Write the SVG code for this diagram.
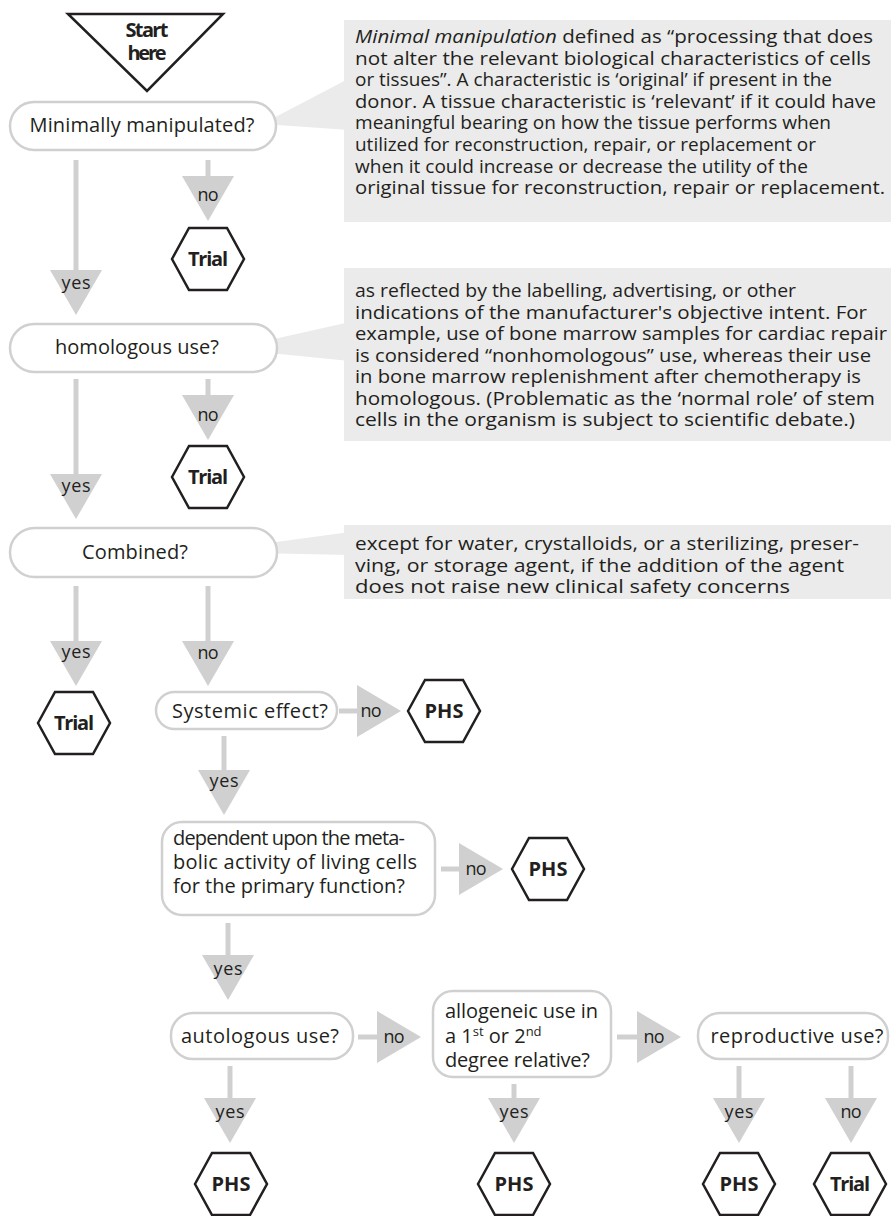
<svg xmlns="http://www.w3.org/2000/svg" xmlns:xlink="http://www.w3.org/1999/xlink" width="891" height="1216" viewBox="0 0 891 1216">
<style>
  text { font-family: "Open Sans", "Noto Sans", "Liberation Sans", sans-serif; fill: #231f20; }
  .lbl { font-size: 20px; }
  .note { font-size: 18.5px; }
  .yn { font-size: 18px; text-anchor: middle; }
  .term { font-size: 20px; font-weight: bold; text-anchor: middle; }
  .box { fill: #ffffff; stroke: #d0d0d0; stroke-width: 2.5; }
  .hex { fill: #ffffff; stroke: #231f20; stroke-width: 2.5; stroke-linejoin: miter; }
  .line { stroke: #d0d0d0; stroke-width: 5; fill: none; }
  .arr { fill: #d0d0d0; }
  .callout { fill: #ebebeb; }
  .mid { text-anchor: middle; }
</style>
<defs>
  <path id="tdown" d="M-26,0 L26,0 L0,45 Z"/>
  <path id="tright" d="M0,-26 L0,26 L44,0 Z"/>
  <polygon id="hexa" points="-36,0 -19,-31 19,-31 36,0 19,31 -19,31"/>
</defs>

<!-- callouts -->
<g id="callout1">
  <polygon class="callout" points="262,124 350,78 350,130"/>
  <rect class="callout" x="344" y="20" width="547" height="202"/>
  <text class="note" x="355" y="43" textLength="518" lengthAdjust="spacingAndGlyphs"><tspan font-style="italic">Minimal manipulation</tspan> defined as “processing that does</text>
  <text class="note" x="355" y="64.6" textLength="516" lengthAdjust="spacingAndGlyphs">not alter the relevant biological characteristics of cells</text>
  <text class="note" x="355" y="86.2" textLength="477" lengthAdjust="spacingAndGlyphs">or tissues”. A characteristic is ‘original’ if present in the</text>
  <text class="note" x="355" y="107.8" textLength="521" lengthAdjust="spacingAndGlyphs">donor. A tissue characteristic is ‘relevant’ if it could have</text>
  <text class="note" x="355" y="129.4" textLength="476" lengthAdjust="spacingAndGlyphs">meaningful bearing on how the tissue performs when</text>
  <text class="note" x="355" y="151" textLength="461" lengthAdjust="spacingAndGlyphs">utilized for reconstruction, repair, or replacement or</text>
  <text class="note" x="355" y="172.6" textLength="453" lengthAdjust="spacingAndGlyphs">when it could increase or decrease the utility of the</text>
  <text class="note" x="355" y="194.2" textLength="530" lengthAdjust="spacingAndGlyphs">original tissue for reconstruction, repair or replacement.</text>
</g>
<g id="callout2">
  <polygon class="callout" points="230,349 350,322 350,361"/>
  <rect class="callout" x="344" y="268" width="547" height="173"/>
  <text class="note" x="355" y="297" textLength="441" lengthAdjust="spacingAndGlyphs">as reflected by the labelling, advertising, or other</text>
  <text class="note" x="355" y="318.5" textLength="512" lengthAdjust="spacingAndGlyphs">indications of the manufacturer's objective intent. For</text>
  <text class="note" x="355" y="340" textLength="532" lengthAdjust="spacingAndGlyphs">example, use of bone marrow samples for cardiac repair</text>
  <text class="note" x="355" y="361.5" textLength="516" lengthAdjust="spacingAndGlyphs">is considered “nonhomologous” use, whereas their use</text>
  <text class="note" x="355" y="383" textLength="506" lengthAdjust="spacingAndGlyphs">in bone marrow replenishment after chemotherapy is</text>
  <text class="note" x="355" y="404.5" textLength="520" lengthAdjust="spacingAndGlyphs">homologous. (Problematic as the ‘normal role’ of stem</text>
  <text class="note" x="355" y="426" textLength="500" lengthAdjust="spacingAndGlyphs">cells in the organism is subject to scientific debate.)</text>
</g>
<g id="callout3">
  <polygon class="callout" points="203,552 350,532 350,555"/>
  <rect class="callout" x="344" y="525" width="547" height="74"/>
  <text class="note" x="355" y="550" textLength="504" lengthAdjust="spacingAndGlyphs">except for water, crystalloids, or a sterilizing, preser-</text>
  <text class="note" x="355" y="571.5" textLength="489" lengthAdjust="spacingAndGlyphs">ving, or storage agent, if the addition of the agent</text>
  <text class="note" x="355" y="593" textLength="435" lengthAdjust="spacingAndGlyphs">does not raise new clinical safety concerns</text>
</g>

<!-- connectors -->
<g id="connectors">
  <line class="line" x1="76" y1="160" x2="76" y2="272"/>
  <use href="#tdown" class="arr" x="76" y="270"/>
  <text class="yn" x="76" y="289" textLength="29">yes</text>
  <line class="line" x1="208" y1="160" x2="208" y2="178"/>
  <use href="#tdown" class="arr" x="208" y="176"/>
  <text class="yn" x="208" y="201" textLength="21">no</text>

  <line class="line" x1="76" y1="379" x2="76" y2="476"/>
  <use href="#tdown" class="arr" x="76" y="474"/>
  <text class="yn" x="76" y="492" textLength="29">yes</text>
  <line class="line" x1="208" y1="379" x2="208" y2="397"/>
  <use href="#tdown" class="arr" x="208" y="395"/>
  <text class="yn" x="208" y="421" textLength="21">no</text>

  <line class="line" x1="76" y1="586" x2="76" y2="643"/>
  <use href="#tdown" class="arr" x="76" y="641"/>
  <text class="yn" x="76" y="658" textLength="29">yes</text>
  <line class="line" x1="208" y1="586" x2="208" y2="643"/>
  <use href="#tdown" class="arr" x="208" y="641"/>
  <text class="yn" x="208" y="659" textLength="21">no</text>

  <line class="line" x1="339" y1="711" x2="359" y2="711"/>
  <use href="#tright" class="arr" x="357" y="711"/>
  <text class="yn" x="371" y="717" textLength="21">no</text>
  <line class="line" x1="224" y1="736" x2="224" y2="772"/>
  <use href="#tdown" class="arr" x="224" y="770"/>
  <text class="yn" x="224" y="787" textLength="29">yes</text>

  <line class="line" x1="441" y1="869" x2="461" y2="869"/>
  <use href="#tright" class="arr" x="459" y="869"/>
  <text class="yn" x="476" y="875" textLength="21">no</text>
  <line class="line" x1="228" y1="923" x2="228" y2="957"/>
  <use href="#tdown" class="arr" x="228" y="955"/>
  <text class="yn" x="228" y="975" textLength="29">yes</text>

  <line class="line" x1="358" y1="1037" x2="379" y2="1037"/>
  <use href="#tright" class="arr" x="377" y="1037"/>
  <text class="yn" x="394" y="1043" textLength="21">no</text>
  <line class="line" x1="617" y1="1037" x2="639" y2="1037"/>
  <use href="#tright" class="arr" x="637" y="1037"/>
  <text class="yn" x="654" y="1043" textLength="21">no</text>

  <line class="line" x1="230" y1="1066" x2="230" y2="1100"/>
  <use href="#tdown" class="arr" x="230" y="1098"/>
  <text class="yn" x="230" y="1118" textLength="29">yes</text>
  <line class="line" x1="514" y1="1084" x2="514" y2="1100"/>
  <use href="#tdown" class="arr" x="514" y="1098"/>
  <text class="yn" x="514" y="1118" textLength="29">yes</text>
  <line class="line" x1="739" y1="1066" x2="739" y2="1100"/>
  <use href="#tdown" class="arr" x="739" y="1098"/>
  <text class="yn" x="739" y="1118" textLength="29">yes</text>
  <line class="line" x1="851" y1="1066" x2="851" y2="1100"/>
  <use href="#tdown" class="arr" x="851" y="1098"/>
  <text class="yn" x="851" y="1118" textLength="21">no</text>
</g>

<!-- start -->
<g id="start">
  <polygon points="68,14 223,14 147,91" fill="#ffffff" stroke="#231f20" stroke-width="2.5"/>
  <text class="term" x="147" y="37" font-size="16.5" textLength="43">Start</text>
  <text class="term" x="147" y="60" font-size="16.5" textLength="39">here</text>
</g>

<!-- decision nodes -->
<g id="q-minimal">
  <rect class="box" x="10" y="102" width="266" height="48" rx="24"/>
  <text class="lbl mid" x="142" y="132" textLength="225">Minimally manipulated?</text>
</g>
<g id="q-homologous">
  <rect class="box" x="10" y="324" width="267" height="48" rx="24"/>
  <text class="lbl mid" x="137" y="354" textLength="164">homologous use?</text>
</g>
<g id="q-combined">
  <rect class="box" x="10" y="528" width="267" height="49" rx="24.5"/>
  <text class="lbl mid" x="135" y="559" textLength="106">Combined?</text>
</g>
<g id="q-systemic">
  <rect class="box" x="156" y="692" width="181" height="37" rx="18.5"/>
  <text class="lbl mid" x="250" y="718" textLength="156">Systemic effect?</text>
</g>
<g id="q-dependent">
  <rect class="box" x="162" y="822" width="273" height="93" rx="20"/>
  <text class="lbl" x="173" y="845" textLength="232">dependent upon the meta-</text>
  <text class="lbl" x="173" y="869" textLength="244">bolic activity of living cells</text>
  <text class="lbl" x="173" y="893" textLength="232">for the primary function?</text>
</g>
<g id="q-autologous">
  <rect class="box" x="171" y="1013" width="182" height="46" rx="22"/>
  <text class="lbl mid" x="260" y="1043" textLength="158">autologous use?</text>
</g>
<g id="q-allogeneic">
  <rect class="box" x="433" y="991" width="178" height="86" rx="20"/>
  <text class="lbl" x="445" y="1018" textLength="153">allogeneic use in</text>
  <text class="lbl" x="445" y="1043">a 1<tspan font-size="13" dy="-7">st</tspan><tspan dy="7"> or 2</tspan><tspan font-size="13" dy="-7">nd</tspan></text>
  <text class="lbl" x="445" y="1067" textLength="145">degree relative?</text>
</g>
<g id="q-reproductive">
  <rect class="box" x="698" y="1013" width="190" height="46" rx="22"/>
  <text class="lbl mid" x="797" y="1043" textLength="173">reproductive use?</text>
</g>

<!-- terminals -->
<g id="t-trial1" transform="translate(208,259)"><use href="#hexa" class="hex"/><text class="term" x="0" y="7" textLength="40">Trial</text></g>
<g id="t-trial2" transform="translate(208,477)"><use href="#hexa" class="hex"/><text class="term" x="0" y="7" textLength="40">Trial</text></g>
<g id="t-trial3" transform="translate(74,723)"><use href="#hexa" class="hex"/><text class="term" x="0" y="7" textLength="40">Trial</text></g>
<g id="t-phs1" transform="translate(444,711)"><use href="#hexa" class="hex"/><text class="term" x="0" y="7" font-size="21">PHS</text></g>
<g id="t-phs2" transform="translate(548,869)"><use href="#hexa" class="hex"/><text class="term" x="0" y="7" font-size="21">PHS</text></g>
<g id="t-phs3" transform="translate(231,1184)"><use href="#hexa" class="hex"/><text class="term" x="0" y="7" font-size="21">PHS</text></g>
<g id="t-phs4" transform="translate(514,1184)"><use href="#hexa" class="hex"/><text class="term" x="0" y="7" font-size="21">PHS</text></g>
<g id="t-phs5" transform="translate(739,1184)"><use href="#hexa" class="hex"/><text class="term" x="0" y="7" font-size="21">PHS</text></g>
<g id="t-trial4" transform="translate(850,1184)"><use href="#hexa" class="hex"/><text class="term" x="0" y="7" textLength="40">Trial</text></g>
</svg>
